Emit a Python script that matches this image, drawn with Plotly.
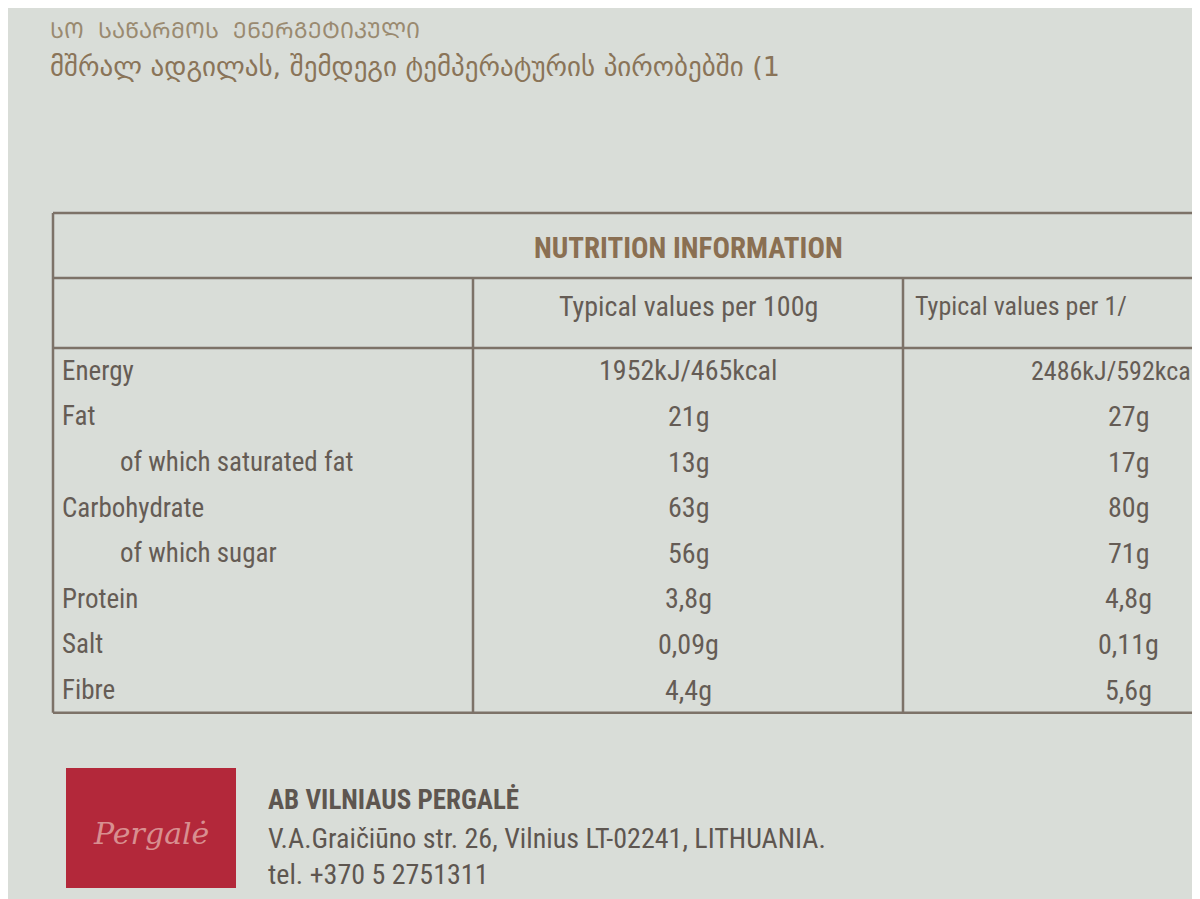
import plotly.graph_objects as go

title = "NUTRITION INFORMATION"
col_headers = ["Typical values per 100g", "Typical values per 1/"]
nutrients = ["Energy", "Fat", "of which saturated fat", "Carbohydrate", "of which sugar", "Protein", "Salt", "Fibre"]
indent = [False, False, True, False, True, False, False, False]
per100 = ["1952kJ/465kcal", "21g", "13g", "63g", "56g", "3,8g", "0,09g", "4,4g"]
perportion = ["2486kJ/592kca", "27g", "17g", "80g", "71g", "4,8g", "0,11g", "5,6g"]
top_lines = ["ᲡᲝ  ᲡᲐᲬᲐᲠᲛᲝᲡ  ᲔᲜᲔᲠᲒᲔᲢᲘᲙᲣᲚᲘ",
             "მშრალ ადგილას, შემდეგი ტემპერატურის პირობებში (1"]
company = ["AB VILNIAUS PERGALĖ", "V.A.Graičiūno str. 26, Vilnius LT-02241, LITHUANIA.", "tel. +370 5 2751311"]

F = "Liberation Sans Narrow, Roboto Condensed, Liberation Sans, sans-serif"
TXT = "#655c55"
LINE = "#7d7268"
fig = go.Figure()
shapes = []
ann = []
x0, x1, x2, x3 = 45, 465, 895, 1260
ytop, yh, ycol = 205, 270, 340
rowh = 45.6
ybot = ycol + rowh * len(nutrients)
def L(xa, ya, xb, yb, w=2.5):
    shapes.append(dict(type="line", x0=xa, y0=ya, x1=xb, y1=yb, line=dict(color=LINE, width=w)))
for y in [ytop, yh, ycol, ybot]:
    L(x0, y, x3, y)
L(x0, ytop, x0, ybot)
L(x1, yh, x1, ybot)
L(x2, yh, x2, ybot)
shapes.append(dict(type="rect", x0=58, y0=760, x1=228, y1=880, fillcolor="#b3283a", line=dict(width=0)))

ann.append(dict(x=680, y=240, text="<b>" + title + "</b>", font=dict(size=29, color="#8a6f52", family=F)))
ann.append(dict(x=680, y=298, text=col_headers[0], font=dict(size=28, color=TXT, family=F)))
ann.append(dict(x=905, y=298, text=col_headers[1], xanchor="left", font=dict(size=26, color=TXT, family=F)))
for i, (n, ind, a, b) in enumerate(zip(nutrients, indent, per100, perportion)):
    yc = ycol + rowh * (i + 0.5)
    ann.append(dict(x=110 if ind else 52, y=yc, text=n, xanchor="left", font=dict(size=27, color=TXT, family=F)))
    ann.append(dict(x=680, y=yc, text=a, font=dict(size=28, color=TXT, family=F)))
    if i == 0:
        ann.append(dict(x=1185, y=yc, text=b, xanchor="right", font=dict(size=26, color=TXT, family=F)))
    else:
        ann.append(dict(x=1120, y=yc, text=b, font=dict(size=28, color=TXT, family=F)))
ann.append(dict(x=40, y=22, text=top_lines[0], xanchor="left", font=dict(size=22, color="#9a8a70", family="DejaVu Sans")))
ann.append(dict(x=40, y=58, text=top_lines[1], xanchor="left", font=dict(size=27, color="#8a7458", family="DejaVu Sans")))
ann.append(dict(x=258, y=792, text="<b>" + company[0] + "</b>", xanchor="left", font=dict(size=27, color="#5e5650", family=F)))
ann.append(dict(x=258, y=830, text=company[1], xanchor="left", font=dict(size=28, color="#5e5650", family=F)))
ann.append(dict(x=258, y=866, text=company[2], xanchor="left", font=dict(size=28, color="#5e5650", family=F)))
ann.append(dict(x=143, y=825, text="<i>Pergalė</i>", font=dict(size=30, color="#d88f90", family="DejaVu Serif")))
for a in ann:
    a.update(showarrow=False, xref="x", yref="y")

fig.update_layout(width=1200, height=899, margin=dict(l=0, r=0, t=0, b=0),
                  paper_bgcolor="#d9ddd8", plot_bgcolor="#d9ddd8", shapes=shapes, annotations=ann,
                  xaxis=dict(range=[0, 1200], visible=False),
                  yaxis=dict(range=[899, 0], visible=False), showlegend=False)
fig.write_html("out.html")
